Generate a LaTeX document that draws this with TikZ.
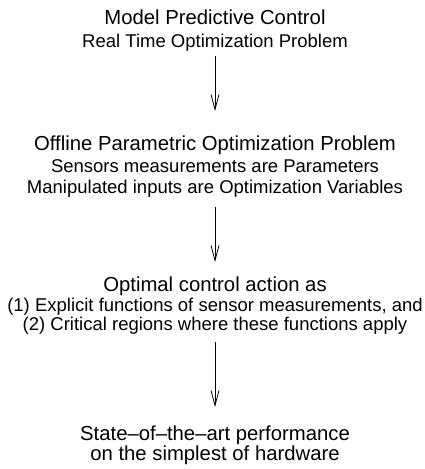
\documentclass[tikz,border=0pt]{standalone}
\usepackage{fontspec}
\setmainfont{Liberation Sans}
\usetikzlibrary{positioning,arrows.meta}

\begin{document}
\begin{tikzpicture}[x=1pt,y=1pt,
  head/.style={anchor=base,inner sep=0pt,font=\fontsize{20.3}{24}\selectfont},
  sub/.style={anchor=base,inner sep=0pt,font=\fontsize{18.5}{22}\selectfont},
  flow/.style={-{Straight Barb[length=15pt,width=8pt]},line width=0.8pt}]
\useasboundingbox (0,0) rectangle (424,-469);
\node[head] (mpc) at (215,-24) {Model Predictive Control};
\node[sub] (rto) at ([yshift=-23pt]mpc.base) {Real Time Optimization Problem};
\node[head] (opp) at (215,-150) {Offline Parametric Optimization Problem};
\node[sub] (par) at ([yshift=-22pt]opp.base) {Sensors measurements are Parameters};
\node[sub] (var) at ([yshift=-21pt]par.base) {Manipulated inputs are Optimization Variables};
\node[head] (oca) at (215,-291) {Optimal control action as};
\node[sub] (expl) at ([yshift=-20pt]oca.base) {(1) Explicit functions of sensor measurements, and};
\node[sub] (crit) at ([yshift=-19pt]expl.base) {(2) Critical regions where these functions apply};
\node[head] (perf) at (215,-440) {State–of–the–art performance};
\node[head] (hw) at ([yshift=-20pt]perf.base) {on the simplest of hardware};
\draw[flow] ([yshift=-9pt]rto.base) -- ([yshift=39pt]opp.base);
\draw[flow] ([yshift=-14pt]var.base) -- ([yshift=29pt]oca.base);
\draw[flow] ([yshift=-12pt]crit.base) -- ([yshift=33pt]perf.base);
\end{tikzpicture}
\end{document}
